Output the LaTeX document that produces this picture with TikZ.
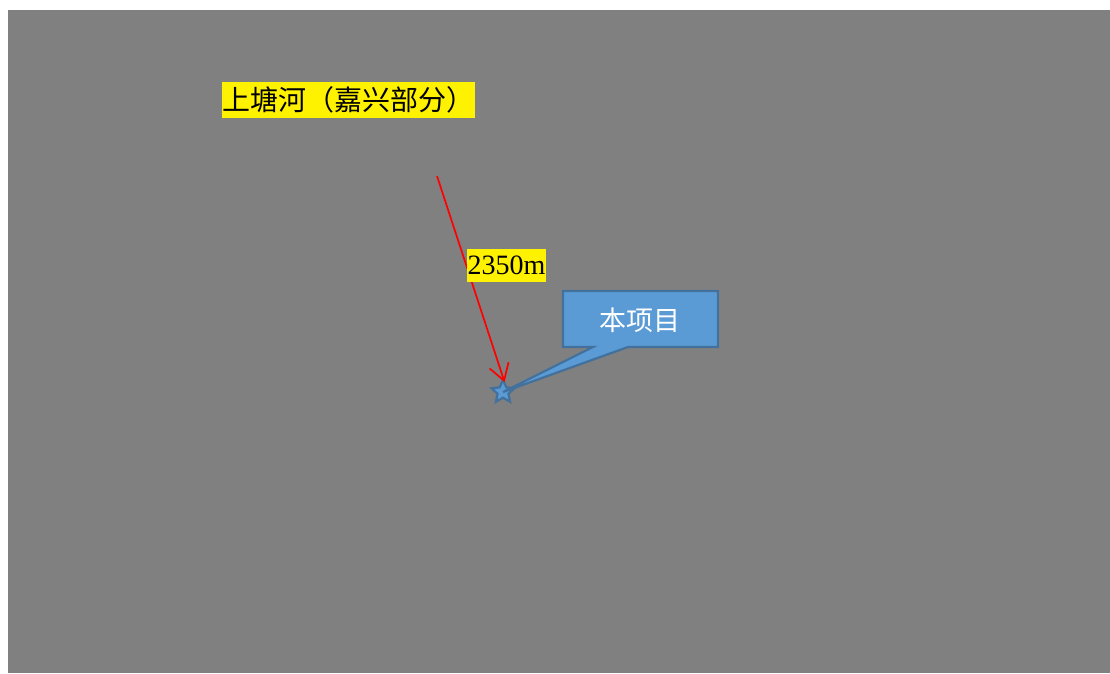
\documentclass[tikz,border=0pt]{standalone}
\usepackage{fontspec}
\setmainfont{Liberation Serif}
\newfontfamily\cjk{Noto Sans CJK SC}
\usetikzlibrary{shapes.geometric,arrows.meta}
\definecolor{bggray}{HTML}{808080}
\definecolor{calloutfill}{HTML}{5B9BD5}
\definecolor{calloutline}{HTML}{41719C}
\tikzset{
  yellowlabel/.style={fill=yellow, text=black, inner xsep=0.5pt, inner ysep=0.5pt, anchor=north west},
  distarrow/.style={red, line width=1.7pt, -{Straight Barb[length=16pt,width=20pt,line width=1.7pt]}, shorten >=-5pt},
  calloutbox/.style={fill=calloutfill, draw=calloutline, line width=2.2pt, line join=miter},
}
\begin{document}
\begin{tikzpicture}[x=1pt,y=-1pt]
\useasboundingbox (0,0) rectangle (1110,673);
\fill[bggray] (8,10) rectangle (1110,673);
% river label
\node[yellowlabel, minimum width=253pt, minimum height=36pt, font=\cjk\fontsize{28}{28}\selectfont] (river) at (222,82) {上塘河（嘉兴部分）};
% star (project location)
\node[star, star points=5, star point ratio=2.1, minimum size=24pt, inner sep=0pt, fill=calloutfill, draw=calloutline, line width=2.2pt] (proj) at (503,392) {};
% callout
\path[calloutbox] (563,291) -- (718,291) -- (718,347) -- (628,347) -- (proj.center) -- (593,347) -- (563,347) -- cycle;
\node[text=white, font=\cjk\fontsize{27}{27}\selectfont] (callout) at (640,320) {本项目};
% distance arrow
\coordinate (arrowstart) at (437,176);
\draw[distarrow] (arrowstart) -- (proj.north);
% distance label
\node[yellowlabel, minimum width=78pt, minimum height=33pt, font=\fontsize{28}{28}\selectfont] (dist) at (467,249) {2350m};
\end{tikzpicture}
\end{document}
